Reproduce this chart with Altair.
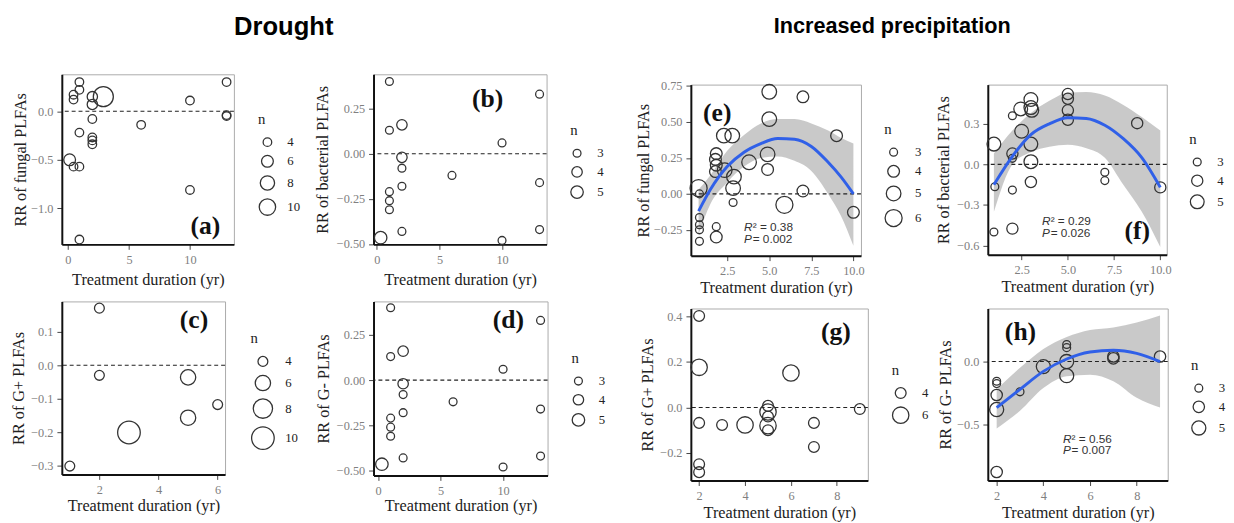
import altair as alt
import pandas as pd

SERIF = "Liberation Serif"
SANS = "Liberation Sans"

# ---------------- data ----------------
# (a) Drought, fungal PLFAs
a_x = [0.94, 0.94, 0.46, 0.46, 2.0, 2.0, 2.9, 2.0, 0.94, 2.0, 2.0, 2.0, 0.14, 0.46, 0.94, 0.94, 6.0, 10.0, 10.0, 13.0, 13.0, 13.0]
a_y = [0.30, 0.22, 0.17, 0.12, 0.15, 0.07, 0.15, -0.08, -0.22, -0.27, -0.30, -0.34, -0.50, -0.57, -0.57, -1.32, -0.14, 0.11, -0.81, 0.30, -0.04, -0.05]
a_n = [4, 4, 4, 4, 5, 5, 14, 4, 4, 4, 4, 4, 6, 4, 4, 4, 4, 4, 4, 4, 4, 4]

# (b) Drought, bacterial PLFAs
b_x = [1.0, 1.0, 2.0, 2.0, 2.0, 2.0, 1.0, 1.0, 1.0, 2.0, 0.3, 6.0, 10.0, 10.0, 13.0, 13.0, 13.0]
b_y = [0.40, 0.13, 0.16, -0.02, -0.08, -0.18, -0.21, -0.26, -0.31, -0.43, -0.465, -0.12, 0.06, -0.48, 0.33, -0.16, -0.42]
b_n = [3, 3, 4, 4, 3, 3, 3, 3, 3, 3, 5, 3, 3, 3, 3, 3, 3]

# (c) Drought, G+ PLFAs
c_x = [2, 2, 5, 5, 6, 3, 1]
c_y = [0.17, -0.03, -0.036, -0.156, -0.117, -0.20, -0.30]
c_n = [4, 4, 6, 6, 4, 10, 4]

# (d) Drought, G- PLFAs
d_x = [1.0, 1.0, 2.0, 2.0, 2.0, 2.0, 1.0, 1.0, 1.0, 2.0, 0.3, 6.0, 10.0, 10.0, 13.0, 13.0, 13.0]
d_y = [0.40, 0.13, 0.16, -0.02, -0.08, -0.18, -0.21, -0.26, -0.31, -0.43, -0.465, -0.12, 0.06, -0.48, 0.33, -0.16, -0.42]
d_n = [3, 3, 4, 4, 3, 3, 3, 3, 3, 3, 5, 3, 3, 3, 3, 3, 3]

# (e) Increased precipitation, fungal PLFAs
e_x = [5, 7, 5, 9, 2.3, 2.8, 1.85, 1.8, 1.85, 1.8, 3.8, 4.9, 4.9, 2.35, 2.9, 2.85, 2.85, 0.8, 0.85, 5.9, 7.0, 10.0, 0.85, 0.85, 0.85, 0.85, 1.85, 1.85]
e_y = [0.71, 0.675, 0.52, 0.405, 0.405, 0.405, 0.28, 0.24, 0.20, 0.155, 0.22, 0.275, 0.17, 0.165, 0.12, 0.04, -0.06, 0.04, 0.0, -0.076, 0.02, -0.128, -0.165, -0.215, -0.25, -0.33, -0.228, -0.30]
e_n = [5, 4, 5, 4, 5, 5, 4, 4, 4, 4, 5, 5, 4, 5, 5, 5, 3, 6, 3, 6, 4, 4, 3, 3, 3, 3, 3, 4]
e_fx = [0.8, 1.5, 2.5, 3.5, 4.5, 5.5, 6.5, 7.5, 8.5, 9.25, 10.0]
e_fy = [-0.12, 0.03, 0.19, 0.29, 0.35, 0.385, 0.38, 0.33, 0.22, 0.12, 0.0]
e_lo = [-0.28, -0.07, 0.08, 0.19, 0.25, 0.26, 0.23, 0.16, 0.0, -0.15, -0.36]
e_hi = [0.03, 0.13, 0.30, 0.41, 0.49, 0.52, 0.52, 0.49, 0.44, 0.39, 0.35]

# (f) Increased precipitation, bacterial PLFAs
f_x = [1.0, 1.05, 1.0, 2.0, 2.0, 2.0, 2.0, 2.0, 2.5, 2.45, 3.0, 3.0, 3.05, 3.0, 3.0, 3.0, 5.0, 5.0, 5.0, 5.0, 7.0, 7.0, 8.75, 10.0]
f_y = [0.15, -0.165, -0.50, 0.36, 0.08, 0.045, -0.19, -0.475, 0.245, 0.41, 0.48, 0.42, 0.40, 0.15, 0.02, -0.13, 0.52, 0.485, 0.40, 0.33, -0.058, -0.12, 0.305, -0.17]
f_n = [5, 3, 3, 3, 4, 3, 3, 4, 5, 5, 5, 5, 5, 5, 5, 4, 4, 4, 4, 4, 3, 3, 4, 4]
f_fx = [1, 2, 3, 4, 5, 6, 7, 8, 9, 10]
f_fy = [-0.15, 0.06, 0.22, 0.30, 0.345, 0.34, 0.29, 0.19, 0.05, -0.17]
f_lo = [-0.35, 0.0, 0.09, 0.13, 0.145, 0.12, 0.05, -0.15, -0.35, -0.61]
f_hi = [0.08, 0.25, 0.38, 0.47, 0.53, 0.535, 0.51, 0.44, 0.35, 0.25]

# (g) Increased precipitation, G+ PLFAs
g_x = [2, 2, 2, 2, 2, 3, 4, 5, 5, 5, 5, 5, 6, 7, 7, 9]
g_y = [0.403, 0.177, -0.068, -0.25, -0.285, -0.077, -0.077, 0.007, -0.02, -0.04, -0.08, -0.10, 0.152, -0.068, -0.174, -0.007]
g_n = [4, 6, 4, 4, 4, 4, 6, 4, 6, 4, 6, 4, 6, 4, 4, 4]

# (h) Increased precipitation, G- PLFAs
h_x = [2, 2, 2, 2, 2, 3, 4, 5, 5, 5, 5, 7, 7, 9]
h_y = [-0.156, -0.175, -0.265, -0.38, -0.875, -0.24, -0.04, 0.135, 0.11, 0.0, -0.112, 0.04, 0.025, 0.04]
h_n = [3, 3, 4, 5, 4, 3, 5, 3, 3, 5, 5, 4, 4, 4]
h_fx = [2, 3, 4, 5, 6, 7, 8, 9]
h_fy = [-0.365, -0.22, -0.078, 0.02, 0.075, 0.09, 0.065, 0.0]
h_lo = [-0.53, -0.39, -0.21, -0.117, -0.104, -0.156, -0.287, -0.365]
h_hi = [-0.22, -0.05, 0.10, 0.195, 0.25, 0.27, 0.31, 0.365]

XTITLE = "Treatment duration (yr)"


def panel(px, py, pn, xdom, ydom, xticks, yticks, xfmt, yfmt, ytitle, w, h,
          sdom, srange, lvals, lx, ly, loff, lab, labxy, ytx, xty,
          fit=None, stats=None):
    xs = alt.Scale(domain=xdom, nice=False, zero=False)
    ys = alt.Scale(domain=ydom, nice=False, zero=False)
    xax = alt.Axis(values=xticks, format=xfmt, title=XTITLE, titleY=xty,
                   titleBaseline="middle")
    yax = alt.Axis(values=yticks, format=yfmt, title=ytitle, titleX=-ytx,
                   titleBaseline="middle")

    def X(f):
        return alt.X(f, type="quantitative", scale=xs, axis=xax)

    def Y(f):
        return alt.Y(f, type="quantitative", scale=ys, axis=yax)

    layers = []
    if fit is not None:
        fx, fy, flo, fhi = fit
        fdf = pd.DataFrame({"x": fx, "y": fy, "lo": flo, "hi": fhi})
        layers.append(
            alt.Chart(fdf).mark_area(color="#bfbfbf", opacity=0.85, interpolate="monotone")
            .encode(x=X("x"), y=Y("lo"), y2=alt.Y2("hi"))
        )
    zdf = pd.DataFrame({"y": [0.0]})
    layers.append(
        alt.Chart(zdf).mark_rule(color="#222", strokeDash=[4, 3], strokeWidth=1.1)
        .encode(y=Y("y"))
    )
    df = pd.DataFrame({"x": px, "y": py, "n": pn})
    layers.append(
        alt.Chart(df).mark_point(shape="circle", filled=False, color="#333",
                                 strokeWidth=1.3, opacity=1)
        .encode(
            x=X("x"), y=Y("y"),
            size=alt.Size("n:Q", scale=alt.Scale(domain=sdom, range=srange),
                          legend=alt.Legend(
                              orient="none", legendX=lx, legendY=ly, values=lvals,
                              format="d",
                              title="n", titleFont=SERIF, titleFontSize=15,
                              titleFontWeight="normal", titleColor="#222",
                              labelFont=SERIF, labelFontSize=13, labelColor="#222",
                              symbolType="circle", symbolFillColor="transparent",
                              symbolStrokeColor="#333", symbolStrokeWidth=1.3,
                              rowPadding=3, titlePadding=9, labelOffset=loff, padding=0))
        )
    )
    if fit is not None:
        layers.append(
            alt.Chart(fdf).mark_line(color="#3060e8", strokeWidth=3, interpolate="monotone")
            .encode(x=X("x"), y=Y("y"))
        )
    ldf = pd.DataFrame({"x": [labxy[0]], "y": [labxy[1]], "t": [lab]})
    layers.append(
        alt.Chart(ldf).mark_text(font=SERIF, fontSize=26, fontWeight="bold", color="#111")
        .encode(x=X("x"), y=Y("y"), text="t:N")
    )
    if stats is not None:
        sx, sy1, sy2, r2, p = stats
        sdf1 = pd.DataFrame({"x": [sx, sx], "y": [sy1, sy2], "t": ["R", "P"]})
        sdf2 = pd.DataFrame({"x": [sx, sx], "y": [sy1, sy2], "t": [r2, p]})
        layers.append(
            alt.Chart(sdf1).mark_text(font=SANS, fontSize=12, fontStyle="italic",
                                      color="#333", align="left")
            .encode(x=X("x"), y=Y("y"), text="t:N")
        )
        layers.append(
            alt.Chart(sdf2).mark_text(font=SANS, fontSize=12, color="#333", align="left", dx=8.8)
            .encode(x=X("x"), y=Y("y"), text="t:N")
        )
    return alt.layer(*layers).properties(width=w, height=h)


A = panel(a_x, a_y, a_n, [-0.5, 13.6], [-1.37, 0.38], [0, 5, 10], [0.0, -0.5, -1.0], "d", ".1f",
          "RR of fungal PLFAs", 175, 173, [4, 10], [76, 279], [4, 6, 8, 10], 199.6, 38.5, 10.7,
          "(a)", (11.27, -1.18), 42, 36)
B = panel(b_x, b_y, b_n, [-0.27, 13.56], [-0.502, 0.44], [0, 5, 10], [0.25, 0.0, -0.25, -0.5], "d", ".2f",
          "RR of bacterial PLFAs", 176, 173, [3, 5], [64, 161], [3, 4, 5], 200, 49.8, 13.6,
          "(b)", (8.85, 0.304), 52, 36)
C = panel(c_x, c_y, c_n, [0.73, 6.25], [-0.325, 0.19], [2, 4, 6], [0.1, 0.0, -0.1, -0.2, -0.3], "d", ".1f",
          "RR of G+ PLFAs", 166, 176, [4, 10], [100, 529], [4, 6, 8, 10], 192, 30.5, 10.2,
          "(c)", (5.2, 0.134), 44, 32)
D = panel(d_x, d_y, d_n, [-0.37, 13.56], [-0.527, 0.435], [0, 5, 10], [0.25, 0.0, -0.25, -0.5], "d", ".2f",
          "RR of G- PLFAs", 177, 177, [3, 5], [64, 161], [3, 4, 5], 201.4, 50.5, 13.6,
          "(d)", (10.42, 0.332), 51, 31)
E = panel(e_x, e_y, e_n, [0.34, 10.45], [-0.43, 0.76], [2.5, 5.0, 7.5, 10.0], [0.75, 0.5, 0.25, 0.0, -0.25], ".1f", ".2f",
          "RR of fungal PLFAs", 173, 174, [3, 6], [64, 300], [3, 4, 5, 6], 196.7, 38.2, 12.3,
          "(e)", (1.91, 0.565), 48, 32,
          fit=(e_fx, e_fy, e_lo, e_hi), stats=(3.5, -0.234, -0.316, "² = 0.38", " = 0.002"))
F = panel(f_x, f_y, f_n, [0.67, 10.35], [-0.668, 0.59], [2.5, 5.0, 7.5, 10.0], [0.3, 0.0, -0.3, -0.6], ".1f", ".1f",
          "RR of bacterial PLFAs", 182, 173, [3, 5], [64, 196], [3, 4, 5], 205, 48.2, 12.3,
          "(f)", (8.75, -0.49), 45, 32,
          fit=(f_fx, f_fy, f_lo, f_hi), stats=(3.6, -0.417, -0.508, "² = 0.29", " = 0.026"))
G = panel(g_x, g_y, g_n, [1.64, 9.35], [-0.322, 0.436], [2, 4, 6, 8], [0.4, 0.2, 0.0, -0.2], "d", ".1f",
          "RR of G+ PLFAs", 180, 175, [4, 6], [121, 278], [4, 6], 204.4, 55.5, 12.7,
          "(g)", (7.96, 0.333), 44, 33)
H = panel(h_x, h_y, h_n, [1.62, 9.33], [-0.943, 0.42], [2, 4, 6, 8], [0.0, -0.5], "d", ".1f",
          "RR of G- PLFAs", 183, 175, [3, 5], [64, 204], [3, 4, 5], 206.6, 50.5, 12.2,
          "(h)", (3.02, 0.234), 43, 33,
          fit=(h_fx, h_fy, h_lo, h_hi), stats=(4.84, -0.612, -0.703, "² = 0.56", " = 0.007"))


def indep(ch):
    return (ch.resolve_scale(x="independent", y="independent", size="independent")
              .resolve_axis(x="independent", y="independent")
              .resolve_legend(size="independent"))


def spacer(w, h):
    return (
        alt.Chart(pd.DataFrame({"s": [0]}))
        .transform_filter("false")
        .mark_point(opacity=0)
        .encode(x=alt.X("s:Q", axis=None), y=alt.Y("s:Q", axis=None))
        .properties(width=w, height=h, view=alt.ViewBackground(stroke="transparent"))
    )


drought = indep(alt.concat(A, spacer(142, 1), B, C, spacer(142, 1), D, columns=3,
                           bounds="flush", spacing={"row": 58, "column": 0})).properties(
    title=alt.TitleParams("Drought", font=SANS, fontSize=26, fontWeight="bold",
                          color="#000", anchor="middle", offset=34, dx=-25))

wet_grid = indep(alt.concat(E, spacer(121.5, 1), F, G, spacer(121.5, 1), H, columns=3,
                            bounds="flush", spacing={"row": 53.7, "column": 0}))
wet = indep(alt.vconcat(spacer(1, 1), wet_grid, spacing=2.5)).properties(
    title=alt.TitleParams("Increased precipitation", font=SANS, fontSize=22, fontWeight="bold",
                          color="#000", anchor="middle", offset=37, dx=-39))

chart = (
    indep(alt.hconcat(drought, wet, spacing=28.75))
    .properties(padding={"left": 1.75, "top": 2, "right": 0, "bottom": 0}, background="white")
    .configure_axis(domainColor="#111", domainWidth=2, tickColor="#444", tickSize=5,
                    tickWidth=1, labelColor="#808080", labelFont=SERIF, labelFontSize=12.5,
                    labelPadding=4, titleFont=SERIF, titleFontSize=16.5,
                    titleFontWeight="normal", titleColor="#222", grid=False)
    .configure_view(stroke="#aaa", strokeWidth=1)
)

chart.save("out.html", embed_options={"renderer": "svg", "actions": False})
